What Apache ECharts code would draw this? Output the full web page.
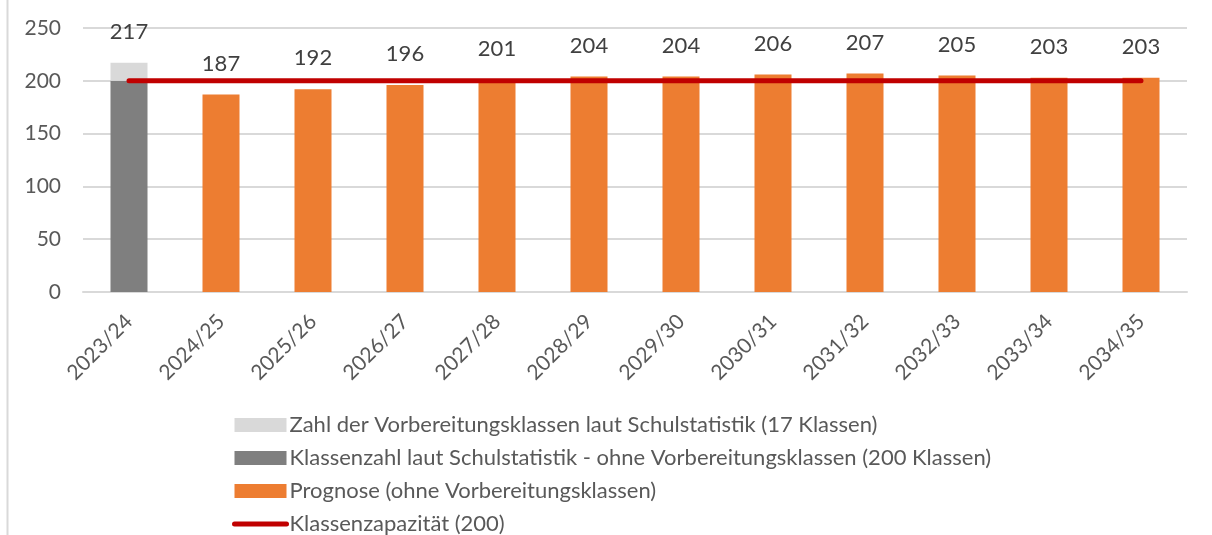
<!DOCTYPE html>
<html>
<head>
<meta charset="utf-8">
<script src="https://cdn.jsdelivr.net/npm/echarts@6/dist/echarts.min.js"></script>
<style>
  html, body { margin: 0; padding: 0; background: #fff; }
  #chart { width: 1212px; height: 535px; }
</style>
</head>
<body>
<div id="chart"></div>
<script>
  // Schuljahre
  var categories = ['2023/24', '2024/25', '2025/26', '2026/27', '2027/28', '2028/29',
    '2029/30', '2030/31', '2031/32', '2032/33', '2033/34', '2034/35'];
  // Ist-Werte 2023/24
  var klassenIst = [200, null, null, null, null, null, null, null, null, null, null, null];
  var vorbereitung = [17, null, null, null, null, null, null, null, null, null, null, null];
  // Prognose
  var prognose = [null, 187, 192, 196, 201, 204, 204, 206, 207, 205, 203, 203];
  var kapazitaet = [200, 200, 200, 200, 200, 200, 200, 200, 200, 200, 200, 200];
  var yTicks = [0, 50, 100, 150, 200, 250];

  var names = [
    'Zahl der Vorbereitungsklassen laut Schulstatistik (17 Klassen)',
    'Klassenzahl laut Schulstatistik - ohne Vorbereitungsklassen (200 Klassen)',
    'Prognose (ohne Vorbereitungsklassen)',
    'Klassenzapazität (200)'
  ];

  var font = 'Lato, "Open Sans", sans-serif';
  var labelStyle = {
    show: true,
    position: 'top',
    distance: 20,
    color: '#404040',
    fontSize: 22,
    fontFamily: font
  };

  var chart = echarts.init(document.getElementById('chart'));
  chart.setOption({
    backgroundColor: '#fff',
    animation: false,
    textStyle: { fontFamily: font },
    graphic: [{
      type: 'line',
      shape: { x1: 7.5, y1: 0, x2: 7.5, y2: 535 },
      style: { stroke: '#D9D9D9', lineWidth: 2 }
    }],
    grid: { left: 83, right: 25, top: 28, bottom: 243, containLabel: false },
    legend: {
      orient: 'vertical',
      left: 227,
      top: 409,
      height: 160,
      itemWidth: 52,
      itemHeight: 14,
      itemGap: 11,
      textStyle: { color: '#595959', fontSize: 22, fontFamily: font, padding: [0, 0, 0, -2] },
      data: [
        { name: names[0], icon: 'rect' },
        { name: names[1], icon: 'rect' },
        { name: names[2], icon: 'rect' },
        { name: names[3], itemStyle: { opacity: 0 },
          lineStyle: { color: '#C00000', width: 5, cap: 'round', opacity: 1 } }
      ]
    },
    xAxis: {
      type: 'category',
      data: categories,
      axisLine: { lineStyle: { color: '#D9D9D9', width: 2 } },
      axisTick: { show: false },
      axisLabel: { rotate: 45, margin: 26, color: '#595959', fontSize: 21, fontFamily: font }
    },
    yAxis: {
      type: 'value',
      min: yTicks[0],
      max: yTicks[yTicks.length - 1],
      interval: 50,
      axisLine: { show: false },
      axisTick: { show: false },
      splitLine: { lineStyle: { color: '#D9D9D9', width: 2 } },
      axisLabel: { margin: 22, color: '#595959', fontSize: 21, fontFamily: font }
    },
    series: [
      {
        name: names[1],
        type: 'bar',
        stack: 'klassen',
        barWidth: 37,
        data: klassenIst,
        itemStyle: { color: '#7F7F7F' }
      },
      {
        name: names[0],
        type: 'bar',
        stack: 'klassen',
        data: vorbereitung,
        itemStyle: { color: '#D9D9D9' },
        label: Object.assign({}, labelStyle, {
          formatter: function(p) { return klassenIst[p.dataIndex] + vorbereitung[p.dataIndex]; }
        })
      },
      {
        name: names[2],
        type: 'bar',
        stack: 'klassen',
        data: prognose,
        itemStyle: { color: '#ED7D31' },
        label: labelStyle
      },
      {
        name: names[3],
        type: 'line',
        data: kapazitaet,
        symbol: 'none',
        z: 5,
        lineStyle: { color: '#C00000', width: 5, cap: 'round' },
        itemStyle: { color: '#C00000' }
      }
    ]
  });
</script>
</body>
</html>
